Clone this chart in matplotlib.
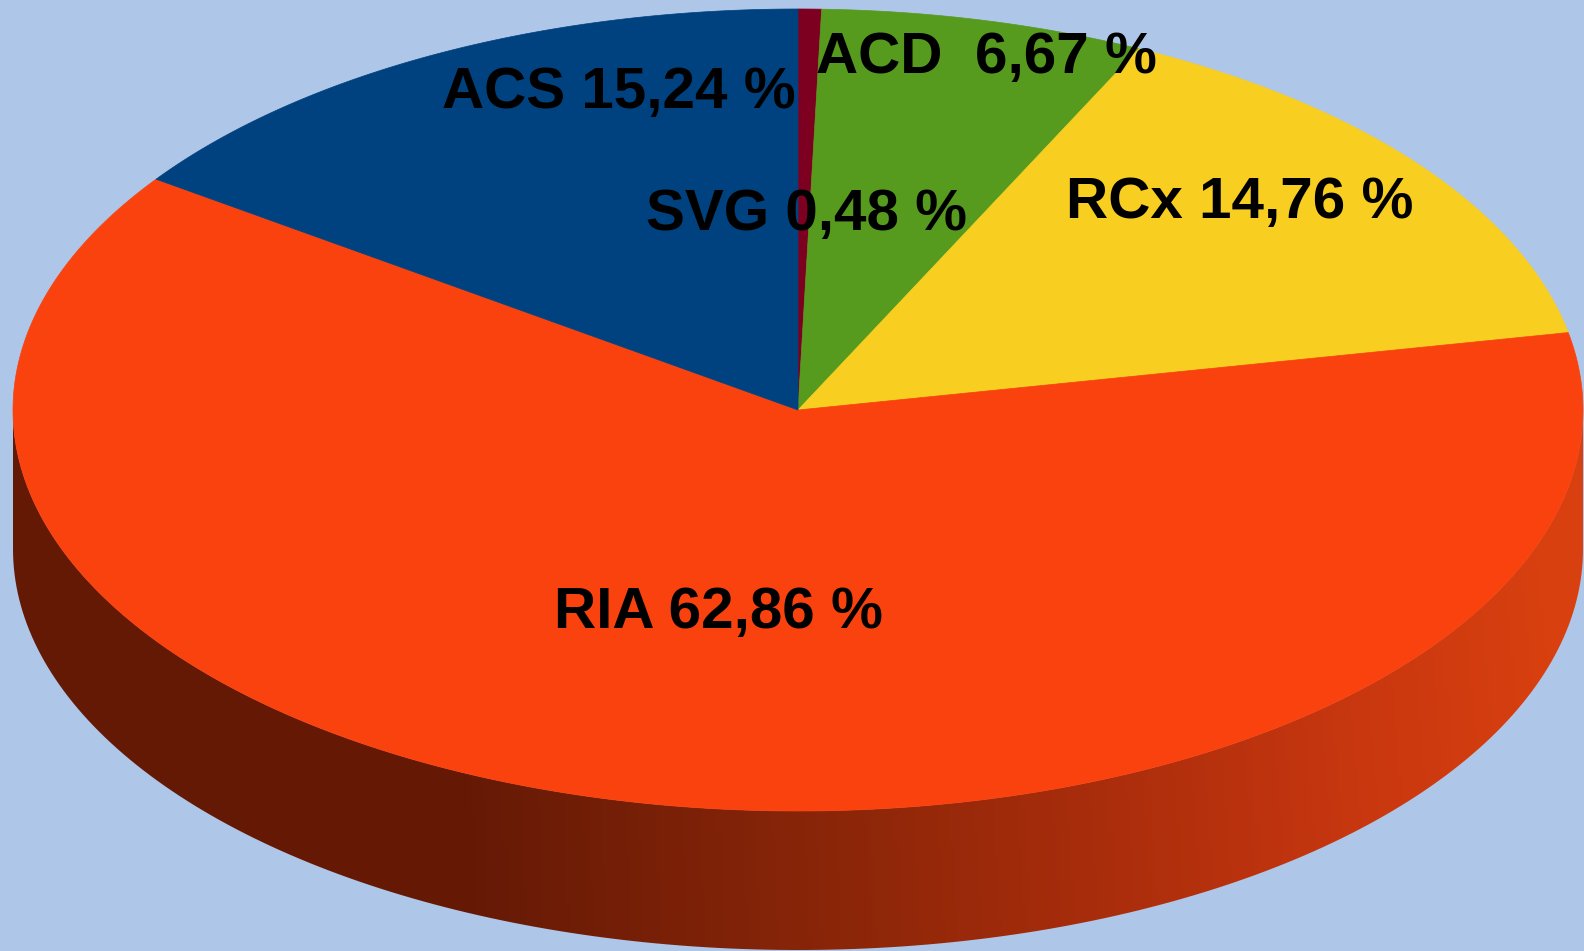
import numpy as np
import matplotlib
matplotlib.use('agg')
import matplotlib.pyplot as plt
from matplotlib.patches import Polygon
from matplotlib.colors import LinearSegmentedColormap

# data, in drawing order (clockwise from 12 o'clock)
labels = ['SVG 0,48 %', 'ACD  6,67 %', 'RCx 14,76 %', 'RIA 62,86 %', 'ACS 15,24 %']
values = [0.48, 6.67, 14.76, 62.86, 15.24]
colors = ['#7e0021', '#569b1d', '#f8ce20', '#f9420e', '#00427f']
# label anchor (centre x, baseline y) in pixels
label_pos = [(806, 230), (986, 73), (1240, 218), (718, 628), (619, 108)]

W, H = 1584, 951
cx, cy = 798, 410       # centre of the top face
a, b = 785, 401         # ellipse half axes
depth = 139

fig = plt.figure(figsize=(W / 100, H / 100), dpi=100)
fig.patch.set_facecolor('#aec6e8')
ax = fig.add_axes([0, 0, 1, 1])
ax.set_xlim(0, W)
ax.set_ylim(H, 0)
ax.axis('off')


def pt(t, dy=0):
    t = np.radians(t)
    return np.column_stack([cx + a * np.cos(t), cy - b * np.sin(t) + dy])


# side wall (only the front half shows)
ts = np.linspace(180, 360, 200)
side = np.vstack([pt(ts), pt(ts[::-1], depth)])
side_cmap = LinearSegmentedColormap.from_list('side', [
    (0.0, '#641905'), (0.3, '#661a06'), (0.55, '#8e2709'),
    (0.72, '#ad2e0c'), (0.88, '#ca3810'), (1.0, '#d8400f')])
xx, yy = np.meshgrid(np.linspace(0, 1, 400), np.linspace(0, 1, 200))
grad = np.clip(xx + 0.06 * (1 - yy) * xx, 0, 1)
im = ax.imshow(grad, cmap=side_cmap, extent=[0, W, H, 0], aspect='auto',
               vmin=0, vmax=1, zorder=1)
wall = Polygon(side, closed=True, facecolor='none', edgecolor='none')
ax.add_patch(wall)
im.set_clip_path(wall)

# top face slices
total = sum(values)
start = 90.0
for v, c in zip(values, colors):
    sweep = 360.0 * v / total
    ts = np.linspace(start, start - sweep, max(int(sweep * 2), 4))
    poly = np.vstack([[cx, cy], pt(ts)])
    ax.add_patch(Polygon(poly, closed=True, facecolor=c, edgecolor=c,
                         linewidth=0.5, zorder=2))
    start -= sweep

for lab, (x, y) in zip(labels, label_pos):
    ax.text(x, y, lab, ha='center', va='baseline', fontsize=42,
            fontweight='bold', family='Liberation Sans', color='black', zorder=3)

fig.savefig('out.png', dpi=100, facecolor=fig.get_facecolor())
